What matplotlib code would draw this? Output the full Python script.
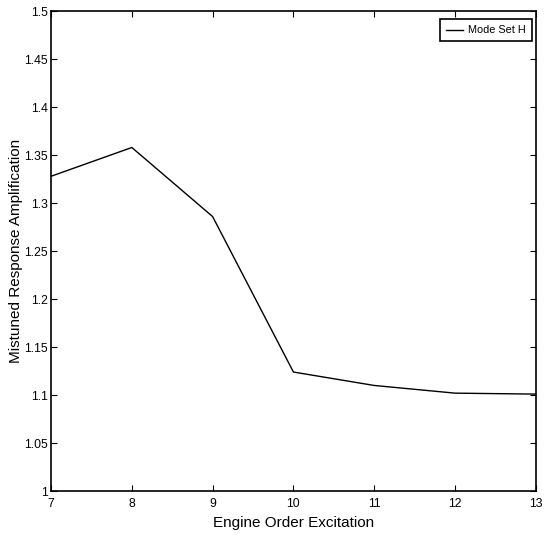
import matplotlib.pyplot as plt
import numpy as np

plt.rcParams['font.family'] = ['Liberation Sans', 'DejaVu Sans']

# engine order vs amplification
orders = [7, 8, 9, 10, 11, 12, 13]
amplification = [1.328, 1.358, 1.286, 1.124, 1.110, 1.102, 1.101]
yticks = np.arange(1.0, 1.5001, 0.05)

fig = plt.figure(figsize=(5.44, 5.35), dpi=100)
ax = fig.add_axes([0.0938, 0.0822, 0.8912, 0.8968])
ax.plot(orders, amplification, color='black', linewidth=1.0, label='Mode Set H')

ax.set_xlim(7, 13)
ax.set_ylim(1.0, 1.5)
ax.set_xticks(orders)
ax.set_yticks(yticks)
ax.set_yticklabels(['1', '1.05', '1.1', '1.15', '1.2', '1.25', '1.3', '1.35', '1.4', '1.45', '1.5'])
ax.tick_params(direction='in', top=True, right=True, labelsize=8.8, length=4, width=0.8)
ax.tick_params(axis='x', pad=5)
ax.tick_params(axis='y', pad=2)
for s in ax.spines.values():
    s.set_linewidth(1.2)

ax.set_xlabel('Engine Order Excitation', fontsize=11, labelpad=4)
ax.set_ylabel('Mistuned Response Amplification', fontsize=11, labelpad=1)

leg = ax.legend(loc='upper right', fontsize=7.8, fancybox=False, framealpha=1,
                edgecolor='black', handlelength=1.6, handletextpad=0.5,
                borderpad=0.55, borderaxespad=0, bbox_to_anchor=(0.992, 0.983))
leg.get_frame().set_linewidth(1.2)

fig.savefig('out.png', dpi=100)
